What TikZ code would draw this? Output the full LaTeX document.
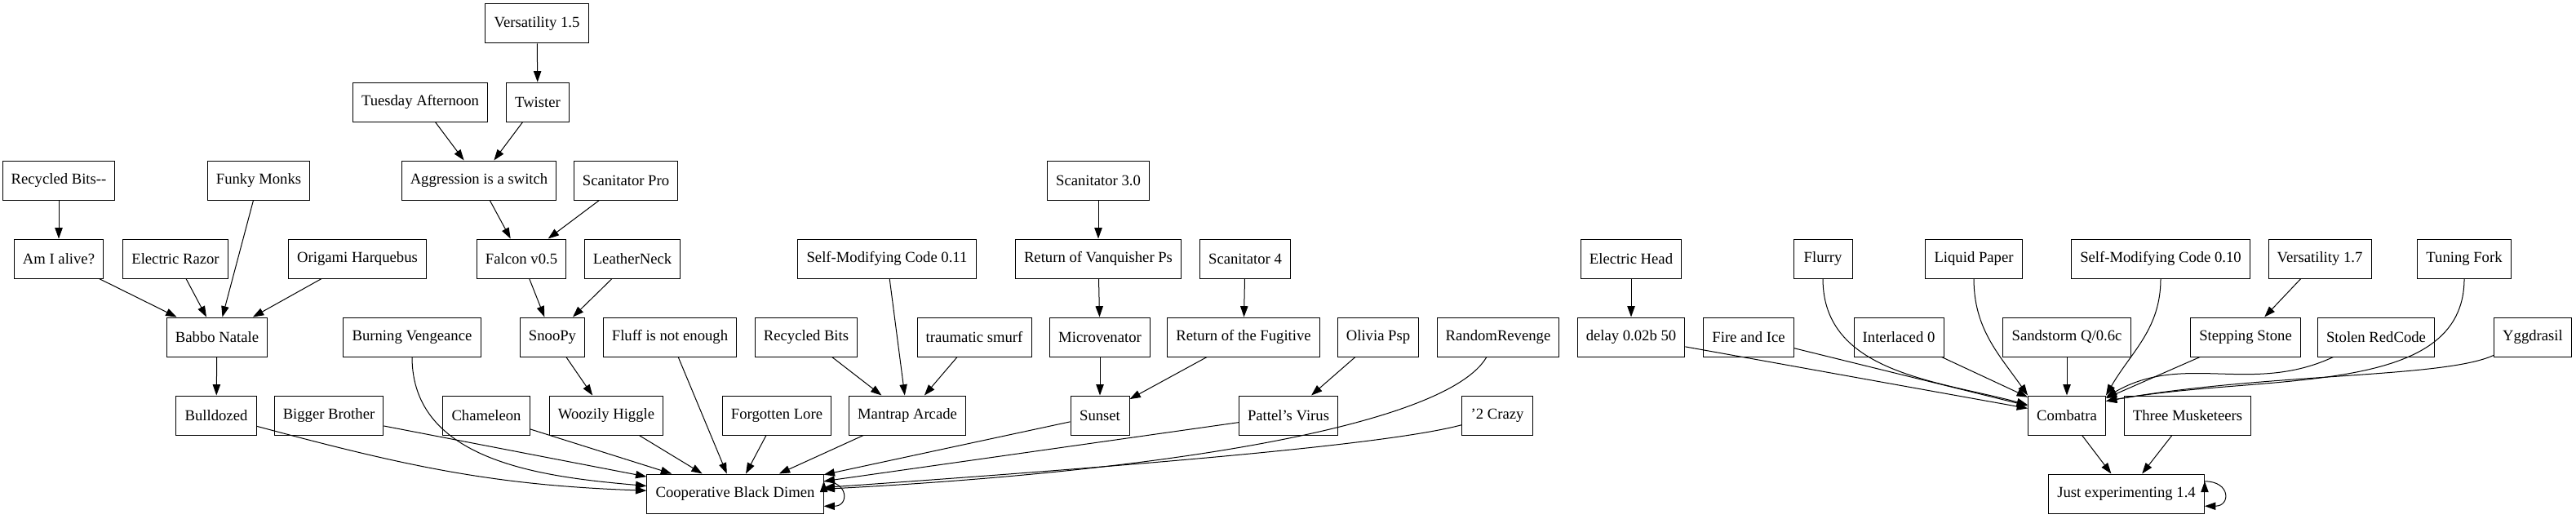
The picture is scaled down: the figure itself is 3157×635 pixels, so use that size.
\documentclass[tikz,border=0pt]{standalone}
\usepackage{fontspec}
\setmainfont{Liberation Serif}
\usetikzlibrary{arrows.meta}
\tikzset{
	->, % every connector is directed
	>={Triangle[length=10pt,width=7pt]}, % filled heads as in the original
	prog/.style={draw, rectangle, line width=0.75pt, minimum height=36pt, minimum width=54pt,
		inner xsep=8pt, inner ysep=0pt, font=\fontsize{14}{16}\selectfont}, % one box per program
	link/.style={line width=0.75pt}, % the connectors
}

\begin{document}
\begin{tikzpicture}[x=0.75pt,y=-0.75pt]
	\useasboundingbox (0,0) rectangle (3157,635);
	% left graph
		\node[prog] (v15) at (658,29) {Versatility 1.5};
		\node[prog] (tuesday) at (515,125) {Tuesday Afternoon};
		\node[prog] (twister) at (659,125) {Twister};
		\node[prog] (recbitsm) at (72,221) {Recycled Bits-{}-};
		\node[prog] (funky) at (317,221) {Funky Monks};
		\node[prog] (aggr) at (587,221) {Aggression is a switch};
		\node[prog] (scanpro) at (767,221) {Scanitator Pro};
		\node[prog] (scan30) at (1346,221) {Scanitator 3.0};
		\node[prog] (alive) at (72,317) {Am I alive?};
		\node[prog] (erazor) at (215,317) {Electric Razor};
		\node[prog] (origami) at (438,317) {Origami Harquebus};
		\node[prog] (falcon) at (639,317) {Falcon v0.5};
		\node[prog] (leather) at (775,317) {LeatherNeck};
		\node[prog] (smc011) at (1087,317) {Self-Modifying Code 0.11};
		\node[prog] (vanq) at (1346,317) {Return of Vanquisher Ps};
		\node[prog] (scan4) at (1526,317) {Scanitator 4};
		\node[prog] (babbo) at (266,413) {Babbo Natale};
		\node[prog] (burning) at (505,413) {Burning Vengeance};
		\node[prog] (snoopy) at (677,413) {SnooPy};
		\node[prog] (fluff) at (821,413) {Fluff is not enough};
		\node[prog] (recbits) at (988,413) {Recycled Bits};
		\node[prog] (smurf) at (1194,413) {traumatic smurf};
		\node[prog] (micro) at (1348,413) {Microvenator};
		\node[prog] (fugitive) at (1524,413) {Return of the Fugitive};
		\node[prog] (olivia) at (1689,413) {Olivia Psp};
		\node[prog] (random) at (1836,413) {RandomRevenge};
		\node[prog] (bulldozed) at (265,509) {Bulldozed};
		\node[prog] (bigger) at (403,509) {Bigger Brother};
		\node[prog] (chameleon) at (596,509) {Chameleon};
		\node[prog] (woozily) at (743,509) {Woozily Higgle};
		\node[prog] (forgotten) at (952,509) {Forgotten Lore};
		\node[prog] (mantrap) at (1112,509) {Mantrap Arcade};
		\node[prog] (sunset) at (1348,509) {Sunset};
		\node[prog] (pattel) at (1579,509) {Pattel's Virus};
		\node[prog] (crazy) at (1835,509) {'2 Crazy};
		\node[prog] (coop) at (901,605) {Cooperative Black Dimen};
	% right graph
		\node[prog] (ehead) at (1999,317) {Electric Head};
		\node[prog] (flurry) at (2234,317) {Flurry};
		\node[prog] (liquid) at (2419,317) {Liquid Paper};
		\node[prog] (smc010) at (2648,317) {Self-Modifying Code 0.10};
		\node[prog] (v17) at (2843,317) {Versatility 1.7};
		\node[prog] (tuning) at (3020,317) {Tuning Fork};
		\node[prog] (delay) at (1999,413) {delay 0.02b 50};
		\node[prog] (fire) at (2143,413) {Fire and Ice};
		\node[prog] (interlaced) at (2327,413) {Interlaced 0};
		\node[prog] (sandstorm) at (2533,413) {Sandstorm Q/0.6c};
		\node[prog] (stepping) at (2752,413) {Stepping Stone};
		\node[prog] (stolen) at (2912,413) {Stolen RedCode};
		\node[prog] (ygg) at (3104,413) {Yggdrasil};
		\node[prog] (combatra) at (2533,509) {Combatra};
		\node[prog] (three) at (2681,509) {Three Musketeers};
		\node[prog] (just) at (2606,605) {Just experimenting 1.4};
	\draw[link] (v15) edge (twister)
			(tuesday) edge (aggr)
			(twister) edge (aggr)
			(aggr) edge (falcon)
			(scanpro) edge (falcon)
			(recbitsm) edge (alive)
			(alive) edge (babbo)
			(erazor) edge (babbo)
			(funky) edge (babbo)
			(origami) edge (babbo)
			(babbo) edge (bulldozed)
			(falcon) edge (snoopy)
			(leather) edge (snoopy)
			(snoopy) edge (woozily)
			(smc011) edge (mantrap)
			(recbits) edge (mantrap)
			(smurf) edge (mantrap)
			(scan30) edge (vanq)
			(vanq) edge (micro)
			(micro) edge (sunset)
			(scan4) edge (fugitive)
			(fugitive) edge (sunset)
			(olivia) edge (pattel);
	\draw[link] (bulldozed) edge[out=-15,in=178] (coop)
			(bigger) edge (coop)
			(burning.south) edge[out=-90,in=175] (coop.175)
			(chameleon) edge (coop)
			(woozily) edge (coop)
			(fluff) edge (coop)
			(forgotten) edge (coop)
			(mantrap) edge (coop)
			(sunset) edge (coop)
			(pattel) edge (coop)
			(random) edge[out=-120,in=3,out distance=70pt,in distance=330pt] (coop)
			(crazy) edge[out=195,in=4,out distance=60pt,in distance=350pt] (coop)
			(coop.8) edge[out=0,in=0,looseness=2.6] (coop.-8);
	\draw[link] (ehead) edge (delay)
			(v17) edge (stepping)
			(delay) edge (combatra)
			(fire) edge (combatra)
			(flurry.south) edge[out=-90,in=165] (combatra.165)
			(interlaced) edge (combatra)
			(liquid.south) edge[out=-90,in=125] (combatra.north west)
			(sandstorm) edge (combatra)
			(smc010.south) edge[out=-90,in=60] (combatra.north east)
			(stepping) edge (combatra)
			(stolen) edge[out=205,in=30] (combatra.25)
			(tuning.south) edge[out=-90,in=10,out distance=110pt,in distance=150pt] (combatra.20)
			(ygg) edge[out=205,in=10,out distance=50pt,in distance=150pt] (combatra.20)
			(combatra) edge (just)
			(three) edge (just)
			(just.9) edge[out=0,in=0,looseness=2.7] (just.-9);
\end{tikzpicture}
\end{document}
